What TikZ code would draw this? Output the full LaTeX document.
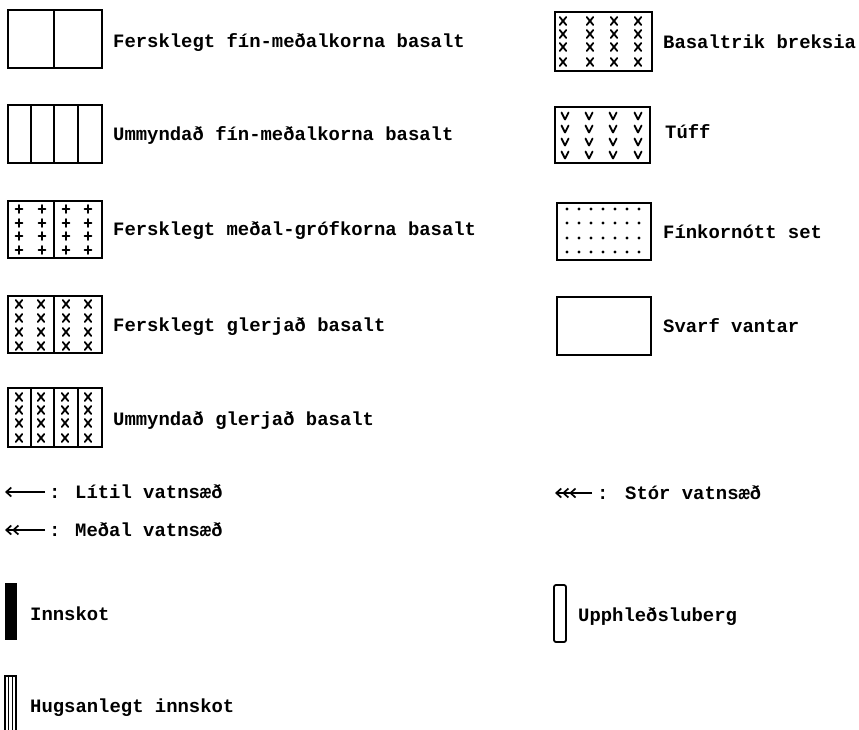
\documentclass[tikz,border=0pt]{standalone}
\usepackage{fontspec}
\newfontfamily\plotfont{Liberation Mono}
\usetikzlibrary{arrows.meta}
\begin{document}
\begin{tikzpicture}[x=1pt,y=-1pt,
  lbl/.style={anchor=base west, inner sep=0pt, font=\plotfont\bfseries\fontsize{18.9}{20}\selectfont},
  box/.style={line width=1.8pt},
  div/.style={line width=1.4pt},
  mk/.style={line width=1.8pt, line cap=round},
  barb/.style={line width=1.7pt},
  tip/.tip={Straight Barb[length=5pt,width=9pt]}]
\useasboundingbox (0,0) rectangle (859,729);
% --- left column boxes
\draw[box] (8,10) rectangle (102,68);
\draw[div] (54,10) -- (54,68);
\draw[box] (8,105) rectangle (102,163);
\foreach \c in {31,54,78} \draw[div] (\c,105) -- (\c,163);
\draw[box] (8,201) rectangle (102,258);
\draw[div] (54,201) -- (54,258);
\foreach \c in {19,42,66,88} \foreach \r in {209,223,236,250}
  \draw[mk] (\c-3.5,\r) -- (\c+3.5,\r) (\c,\r-4) -- (\c,\r+4);
\draw[box] (8,296) rectangle (102,353);
\draw[div] (54,296) -- (54,353);
\foreach \c in {19,41,66,88} \foreach \r in {304,318,332,346}
  \draw[mk] (\c-3.3,\r-4) -- (\c+3.3,\r+4) (\c-3.3,\r+4) -- (\c+3.3,\r-4);
\draw[box] (8,388) rectangle (102,447);
\foreach \c in {31,54,78} \draw[div] (\c,388) -- (\c,447);
\foreach \c in {19,41,65,88} \foreach \r in {397,410,423,438}
  \draw[mk] (\c-3.3,\r-4) -- (\c+3.3,\r+4) (\c-3.3,\r+4) -- (\c+3.3,\r-4);
% --- right column boxes
\draw[box] (555,12) rectangle (652,71);
\foreach \c in {563,590,614,638} \foreach \r in {21,34,47,62}
  \draw[mk] (\c-3.3,\r-4) -- (\c+3.3,\r+4) (\c-3.3,\r+4) -- (\c+3.3,\r-4);
\draw[box] (555,107) rectangle (650,163);
\foreach \c in {565,589,613,638} \foreach \r in {116,129,142,155}
  \draw[mk, line join=round] (\c-3.5,\r-3.5) -- (\c,\r+3.5) -- (\c+3.5,\r-3.5);
\draw[box] (557,203) rectangle (651,260);
\foreach \c in {567,579,591,603,615,627,639} \foreach \r in {209,223,238,252}
  \fill (\c,\r) circle (1.6pt);
\draw[box] (557,297) rectangle (651,355);
% --- labels
\node[lbl] (t1) at (113,47) {Fersklegt fín-meðalkorna basalt};
\node[lbl] (t2) at (113,140) {Ummyndað fín-meðalkorna basalt};
\node[lbl] (t3) at (113,235) {Fersklegt meðal-grófkorna basalt};
\node[lbl] (t4) at (113,331) {Fersklegt glerjað basalt};
\node[lbl] (t5) at (113,425) {Ummyndað glerjað basalt};
\node[lbl] (t6) at (663,48) {Basaltrik breksia};
\node[lbl] (t7) at (665,138) {Túff};
\node[lbl] (t8) at (663,238) {Fínkornótt set};
\node[lbl] (t9) at (663,332) {Svarf vantar};
% --- water veins
\coordinate (a1s) at (45,492); \coordinate (a1e) at (5,492);
\draw[barb, -{tip}] (a1s) -- (a1e);
\node[lbl] (c1) at (49,498) {:};
\node[lbl] (t10) at (75,498) {Lítil vatnsæð};
\coordinate (a2s) at (45,530); \coordinate (a2e) at (5,530);
\draw[barb, -{tip[sep=0pt] tip}] (a2s) -- (a2e);
\node[lbl] (c2) at (49,536) {:};
\node[lbl] (t11) at (75,536) {Meðal vatnsæð};
\coordinate (a3s) at (592,493); \coordinate (a3e) at (555,493);
\draw[barb, -{tip[sep=0pt] tip[sep=0pt] tip}] (a3s) -- (a3e);
\node[lbl] (c3) at (597,499) {:};
\node[lbl] (t12) at (625,499) {Stór vatnsæð};
% --- intrusions
\fill (5,583) rectangle (17,640);
\node[lbl] (t13) at (30,620) {Innskot};
\draw[div] (5,731) -- (5,676) -- (16,676) -- (16,731);
\draw[line width=1.1pt] (8.7,676) -- (8.7,731) (12.3,676) -- (12.3,731);
\node[lbl] (t14) at (30,712) {Hugsanlegt innskot};
\draw[box, rounded corners=2pt] (554,585) rectangle (566,642);
\node[lbl] (t15) at (578,621) {Upphleðsluberg};
\end{tikzpicture}
\end{document}
